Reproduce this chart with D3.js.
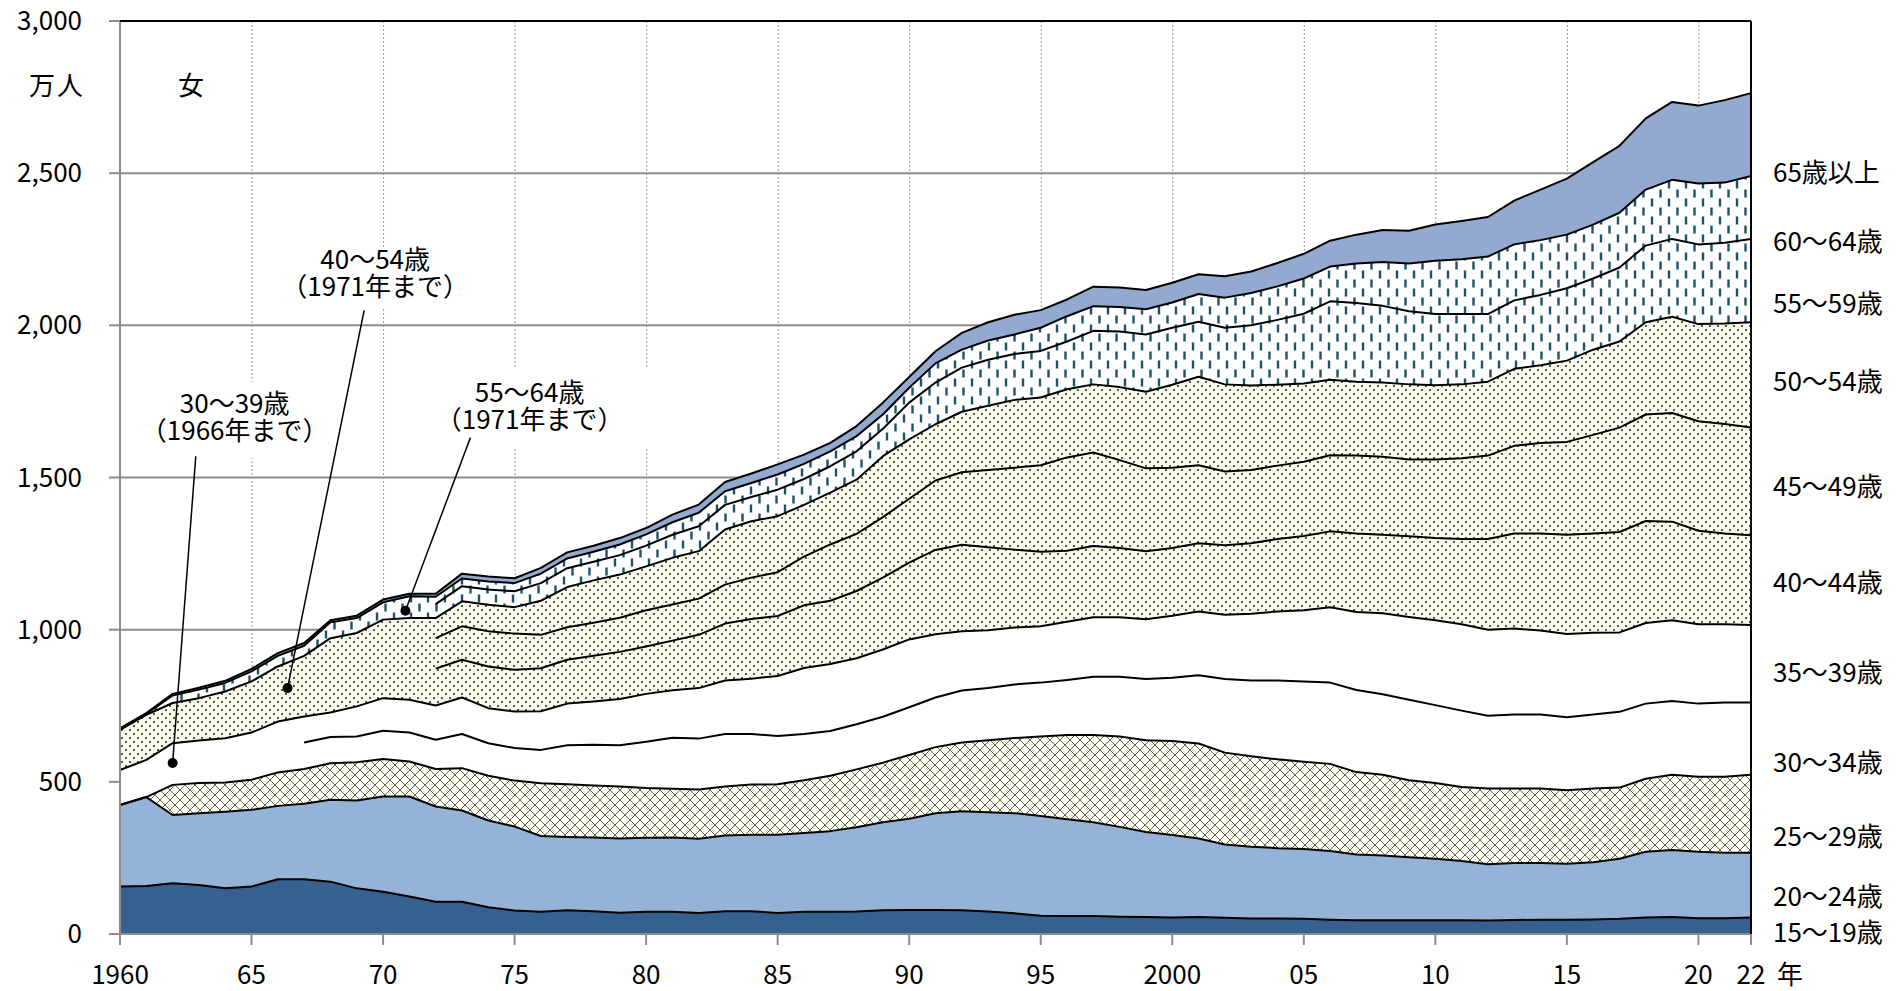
<!DOCTYPE html>
<meta charset="utf-8">
<style>

body {
  margin: 0;
  background: #fff;
}

text {
  font-family: "Noto Sans CJK JP", "Noto Sans", sans-serif;
  font-size: 26px;
  fill: #000;
}

.grid-h {
  stroke: #8c8c8c;
  stroke-width: 2;
}

.grid-v {
  stroke: #9a9a9a;
  stroke-width: 1;
  stroke-dasharray: 2,2;
}

.axis-line {
  stroke: #8c8c8c;
  stroke-width: 2;
  fill: none;
}

.frame {
  stroke: #000;
  stroke-width: 2;
}

.edge {
  fill: none;
  stroke: #000;
  stroke-width: 2;
  stroke-linejoin: round;
}

.leader {
  stroke: #000;
  stroke-width: 1.5;
}

</style>
<body>
<script src="https://cdn.jsdelivr.net/npm/d3@7"></script>
<script>

// 女性雇用者数（万人）, 1960-2022
var years = d3.range(1960, 2023);

var ageLabels = ["15～19歳", "20～24歳", "25～29歳", "30～34歳", "35～39歳",
                 "40～44歳", "45～49歳", "50～54歳", "55～59歳", "60～64歳", "65歳以上"];

var age15_19 = [156, 158, 167, 161, 150, 156, 180, 180, 172, 150,
                139, 123, 106, 106, 88, 77, 73, 78, 75, 70,
                73, 73, 69, 75, 75, 69, 73, 73, 74, 78,
                79, 79, 78, 74, 68, 60, 59, 59, 57, 56,
                54, 56, 53, 51, 51, 50, 47, 45, 45, 45,
                45, 45, 44, 46, 47, 47, 48, 50, 54, 56,
                52, 52, 54];

var age20_24 = [268, 292, 224, 236, 252, 252, 241, 248, 269, 289,
                313, 329, 313, 300, 285, 276, 249, 241, 242, 244,
                243, 244, 244, 249, 251, 257, 259, 265, 277, 289,
                300, 318, 325, 326, 329, 328, 318, 308, 295, 279,
                271, 258, 241, 236, 231, 229, 226, 216, 213, 207,
                202, 195, 185, 187, 186, 184, 188, 197, 216, 220,
                218, 215, 213];

var age25_29 = [0, 0, 99, 99, 96, 99, 110, 114, 120, 125,
                123, 115, 123, 139, 147, 151, 173, 173, 171, 171,
                164, 160, 162, 161, 165, 166, 173, 182, 190, 196,
                209, 217, 226, 237, 247, 261, 277, 287, 297, 302,
                309, 312, 302, 297, 292, 287, 286, 271, 265, 253,
                249, 243, 249, 245, 245, 241, 242, 234, 240, 247,
                247, 250, 256];

// 1966年までは30～39歳の合計を35～39歳に入れる
var age30_34 = [null, null, null, null, null, null, null, 87, 86, 85,
                93, 95, 96, 112, 107, 107, 110, 128, 134, 135,
                152, 168, 167, 172, 166, 159, 152, 147, 148, 151,
                157, 163, 171, 171, 176, 177, 181, 191, 196, 201,
                208, 224, 242, 249, 259, 264, 267, 270, 265, 265,
                256, 251, 239, 243, 243, 240, 243, 249, 247, 243,
                240, 244, 238];

var age35_39 = [115, 122, 137, 140, 145, 155, 167, 86, 81, 99,
                107, 108, 113, 120, 115, 120, 127, 137, 142, 152,
                157, 156, 166, 176, 182, 197, 217, 220, 217, 221,
                223, 208, 195, 190, 187, 185, 191, 196, 196, 196,
                204, 210, 211, 219, 227, 234, 248, 256, 266, 272,
                279, 284, 283, 283, 276, 274, 269, 261, 265, 265,
                261, 257, 254];

// 1971年までは40～54歳の合計を50～54歳に入れる
var age40_44 = [null, null, null, null, null, null, null, null, null, null,
                null, null, 121, 124, 137, 137, 141, 144, 150, 155,
                156, 163, 175, 187, 196, 197, 206, 208, 221, 236,
                252, 277, 284, 273, 256, 245, 233, 234, 227, 224,
                222, 224, 228, 232, 238, 244, 249, 258, 258, 265,
                270, 280, 298, 312, 319, 326, 326, 330, 335, 324,
                307, 298, 295];

var age45_49 = [null, null, null, null, null, null, null, null, null, null,
                null, null, 100, 110, 116, 119, 110, 107, 109, 112,
                119, 119, 119, 128, 136, 144, 160, 185, 188, 199,
                210, 228, 238, 254, 269, 284, 307, 307, 289, 272,
                264, 256, 243, 241, 241, 244, 250, 256, 256, 252,
                258, 265, 274, 288, 297, 305, 324, 343, 350, 357,
                360, 360, 354];

var age50_54 = [132, 148, 132, 139, 154, 168, 181, 199, 244, 241,
                258, 268, 66, 82, 87, 87, 112, 132, 139, 142,
                144, 153, 156, 181, 185, 184, 170, 170, 178, 200,
                195, 185, 199, 211, 223, 223, 224, 224, 240, 252,
                273, 291, 286, 277, 266, 257, 248, 243, 244, 247,
                244, 243, 243, 253, 256, 267, 280, 283, 303, 316,
                319, 330, 346];

// 1971年までは55～64歳の合計を60～64歳に入れる
var age55_59 = [null, null, null, null, null, null, null, null, null, null,
                null, null, 46, 50, 50, 52, 58, 62, 61, 64,
                68, 76, 82, 81, 80, 87, 85, 87, 93, 90,
                121, 137, 145, 151, 151, 153, 157, 176, 183, 188,
                187, 181, 186, 198, 213, 229, 258, 258, 252, 240,
                234, 231, 222, 225, 231, 238, 234, 243, 252, 256,
                262, 265, 274];

var age60_64 = [3, 3, 25, 28, 28, 33, 35, 33, 52, 49,
                57, 72, 24, 25, 26, 27, 31, 32, 33, 35,
                37, 41, 44, 45, 46, 50, 50, 49, 50, 47,
                49, 63, 59, 63, 64, 76, 83, 81, 80, 83,
                83, 91, 99, 106, 110, 116, 114, 130, 144, 157,
                175, 180, 189, 184, 180, 176, 177, 180, 184, 194,
                200, 198, 207];

var age65over = [2, 3, 5, 6, 7, 8, 9, 9, 7, 8,
                 9, 8, 10, 16, 17, 16, 19, 20, 20, 21,
                 21, 25, 27, 30, 31, 33, 30, 28, 33, 39,
                 35, 40, 55, 60, 65, 58, 55, 64, 64, 63,
                 65, 65, 70, 71, 77, 81, 85, 95, 105, 108,
                 119, 126, 130, 144, 166, 184, 205, 220, 234, 256,
                 256, 271, 272];

var series = [age15_19, age20_24, age25_29, age30_34, age35_39,
              age40_44, age45_49, age50_54, age55_59, age60_64, age65over];

var yTicks = [0, 500, 1000, 1500, 2000, 2500, 3000];
var xTicks = [1960, 1965, 1970, 1975, 1980, 1985, 1990, 1995, 2000, 2005, 2010, 2015, 2020, 2022];
var xTickLabels = ["1960", "65", "70", "75", "80", "85", "90", "95", "2000", "05", "10", "15", "20", "22"];

// annotations: text centre (year, value), leader from (year, value) to the dot (year, value)
var notes = [
  {lines: ["30～39歳", "（1966年まで）"], tx: 1964.36, ty: 1741, from: [1962.88, 1570], dot: [1962.0, 562]},
  {lines: ["40～54歳", "（1971年まで）"], tx: 1969.7, ty: 2215, from: [1969.28, 2049], dot: [1966.37, 808]},
  {lines: ["55～64歳", "（1971年まで）"], tx: 1975.57, ty: 1778, from: [1973.32, 1631], dot: [1970.85, 1062]}
];

var width = 1904,
    height = 991;

var x = d3.scaleLinear().domain([1960, 2022]).range([120, 1751]);
var y = d3.scaleLinear().domain([0, 3000]).range([934, 21]);

var svg = d3.select("body").append("svg")
    .attr("width", width)
    .attr("height", height);

var defs = svg.append("defs");

// 25～29歳 crosshatch
var pc = defs.append("pattern").attr("id", "crosshatch")
    .attr("patternUnits", "userSpaceOnUse").attr("width", 10).attr("height", 10);
pc.append("rect").attr("width", 10).attr("height", 10).attr("fill", "#fff");
pc.append("path").attr("d", "M0,0L10,10M10,0L0,10")
    .attr("stroke", "#5b6f2e").attr("stroke-width", 1);

// 40～54歳 dots
var pd = defs.append("pattern").attr("id", "dots")
    .attr("patternUnits", "userSpaceOnUse").attr("width", 8).attr("height", 8);
pd.append("rect").attr("width", 8).attr("height", 8).attr("fill", "#fbfbf4");
pd.append("rect").attr("x", 1).attr("y", 1).attr("width", 2).attr("height", 2).attr("fill", "#4f6228");
pd.append("rect").attr("x", 5).attr("y", 5).attr("width", 2).attr("height", 2).attr("fill", "#4f6228");

// 55～64歳 vertical dashes
var pv = defs.append("pattern").attr("id", "dashes")
    .attr("patternUnits", "userSpaceOnUse").attr("width", 17).attr("height", 18);
pv.append("rect").attr("width", 17).attr("height", 18).attr("fill", "#fff");
pv.append("path").attr("d", "M3,0.5V8.5M11.5,9.5V17.5")
    .attr("stroke", "#1b5466").attr("stroke-width", 2.4);

var fills = ["#36608f", "#95b3d7", "url(#crosshatch)", "#fff", "#fff",
             "url(#dots)", "url(#dots)", "url(#dots)", "url(#dashes)", "url(#dashes)", "#93a9cf"];

// gridlines
svg.append("g").selectAll("line")
    .data(yTicks.slice(1, -1))
  .enter().append("line")
    .attr("class", "grid-h")
    .attr("x1", x(1960)).attr("x2", x(2022))
    .attr("y1", function(d) { return y(d); })
    .attr("y2", function(d) { return y(d); });

svg.append("g").selectAll("line")
    .data(xTicks.filter(function(d) { return d > 1960 && d % 5 == 0; }))
  .enter().append("line")
    .attr("class", "grid-v")
    .attr("x1", function(d) { return x(d) + 0.5; })
    .attr("x2", function(d) { return x(d) + 0.5; })
    .attr("y1", y(3000)).attr("y2", y(0));

// white boxes behind the notes
var boxes = [[155, 382, 160, 76], [298, 247, 155, 60], [440, 367, 220, 81]];
svg.append("g").selectAll("rect")
    .data(boxes)
  .enter().append("rect")
    .attr("x", function(d) { return d[0]; })
    .attr("y", function(d) { return d[1]; })
    .attr("width", function(d) { return d[2]; })
    .attr("height", function(d) { return d[3]; })
    .attr("fill", "#fff");

// stacked data
var rows = years.map(function(yr, i) {
  var r = {year: yr};
  series.forEach(function(s, k) { r[k] = s[i]; });
  return r;
});

var keys = d3.range(series.length);
var stacked = d3.stack()
    .keys(keys)
    .value(function(d, k) { return d[k] == null ? 0 : d[k]; })(rows);

var area = d3.area()
    .x(function(d) { return x(d.data.year); })
    .y0(function(d) { return y(d[0]); })
    .y1(function(d) { return y(d[1]); });

svg.append("g").selectAll("path")
    .data(stacked)
  .enter().append("path")
    .attr("d", area)
    .attr("fill", function(d) { return fills[d.key]; });

// boundary lines, only where the group exists on its own
svg.append("g").selectAll("path")
    .data(stacked)
  .enter().append("path")
    .attr("class", "edge")
    .attr("stroke-width", function(d) { return d.key == 10 ? 2.5 : 2; })
    .attr("d", function(s) {
      return d3.line()
          .defined(function(d) { return d.data[s.key] != null; })
          .x(function(d) { return x(d.data.year); })
          .y(function(d) { return y(d[1]); })(s);
    });

// axes
svg.append("line").attr("class", "axis-line")
    .attr("x1", x(1960)).attr("x2", x(1960)).attr("y1", y(3000)).attr("y2", y(0) + 11);
svg.append("line").attr("class", "axis-line")
    .attr("x1", x(1960) - 11).attr("x2", x(2022)).attr("y1", y(0)).attr("y2", y(0));
svg.append("g").selectAll("line")
    .data(yTicks)
  .enter().append("line")
    .attr("class", "axis-line")
    .attr("x1", x(1960) - 11).attr("x2", x(1960))
    .attr("y1", function(d) { return y(d); })
    .attr("y2", function(d) { return y(d); });
svg.append("g").selectAll("line")
    .data(xTicks)
  .enter().append("line")
    .attr("class", "axis-line")
    .attr("x1", function(d) { return x(d); })
    .attr("x2", function(d) { return x(d); })
    .attr("y1", y(0)).attr("y2", y(0) + 11);

// frame top / right
svg.append("line").attr("class", "frame")
    .attr("x1", x(1960)).attr("x2", x(2022)).attr("y1", y(3000)).attr("y2", y(3000));
svg.append("line").attr("class", "frame")
    .attr("x1", x(2022)).attr("x2", x(2022)).attr("y1", y(3000)).attr("y2", y(0));

// tick labels
var fmt = d3.format(",");
svg.append("g").selectAll("text")
    .data(yTicks)
  .enter().append("text")
    .attr("x", 82)
    .attr("y", function(d) { return y(d); })
    .attr("dy", "0.35em")
    .attr("text-anchor", "end")
    .text(function(d) { return fmt(d); });

svg.append("g").selectAll("text")
    .data(xTicks)
  .enter().append("text")
    .attr("x", function(d) { return x(d); })
    .attr("y", 975)
    .attr("dy", "0.35em")
    .attr("text-anchor", "middle")
    .text(function(d, i) { return xTickLabels[i]; });

svg.append("text").attr("x", 1790).attr("y", 975).attr("dy", "0.35em")
    .attr("text-anchor", "middle").text("年");
svg.append("text").attr("x", 57).attr("y", 86).attr("dy", "0.35em")
    .attr("text-anchor", "middle").attr("letter-spacing", 2).text("万人");
svg.append("text").attr("x", 191).attr("y", 86).attr("dy", "0.35em")
    .attr("text-anchor", "middle").text("女");

// series labels on the right
var labelY = [933, 897, 837, 763, 673, 583, 487, 382, 304, 242, 173];
svg.append("g").selectAll("text")
    .data(ageLabels)
  .enter().append("text")
    .attr("x", 1773)
    .attr("y", function(d, i) { return labelY[i]; })
    .attr("dy", "0.35em")
    .text(function(d) { return d; });

// notes
var ng = svg.append("g").selectAll("g")
    .data(notes)
  .enter().append("g");

ng.append("line")
    .attr("class", "leader")
    .attr("x1", function(d) { return x(d.from[0]); })
    .attr("y1", function(d) { return y(d.from[1]); })
    .attr("x2", function(d) { return x(d.dot[0]); })
    .attr("y2", function(d) { return y(d.dot[1]); });

ng.append("circle")
    .attr("cx", function(d) { return x(d.dot[0]); })
    .attr("cy", function(d) { return y(d.dot[1]); })
    .attr("r", 5)
    .attr("fill", "#000");

ng.each(function(d) {
  var t = d3.select(this).append("text")
      .attr("text-anchor", "middle")
      .attr("x", x(d.tx))
      .attr("y", y(d.ty));
  d.lines.forEach(function(l, i) {
    t.append("tspan").attr("x", x(d.tx)).attr("dy", i == 0 ? "0.35em" : "1.04em").text(l);
  });
});

</script>
</body>
